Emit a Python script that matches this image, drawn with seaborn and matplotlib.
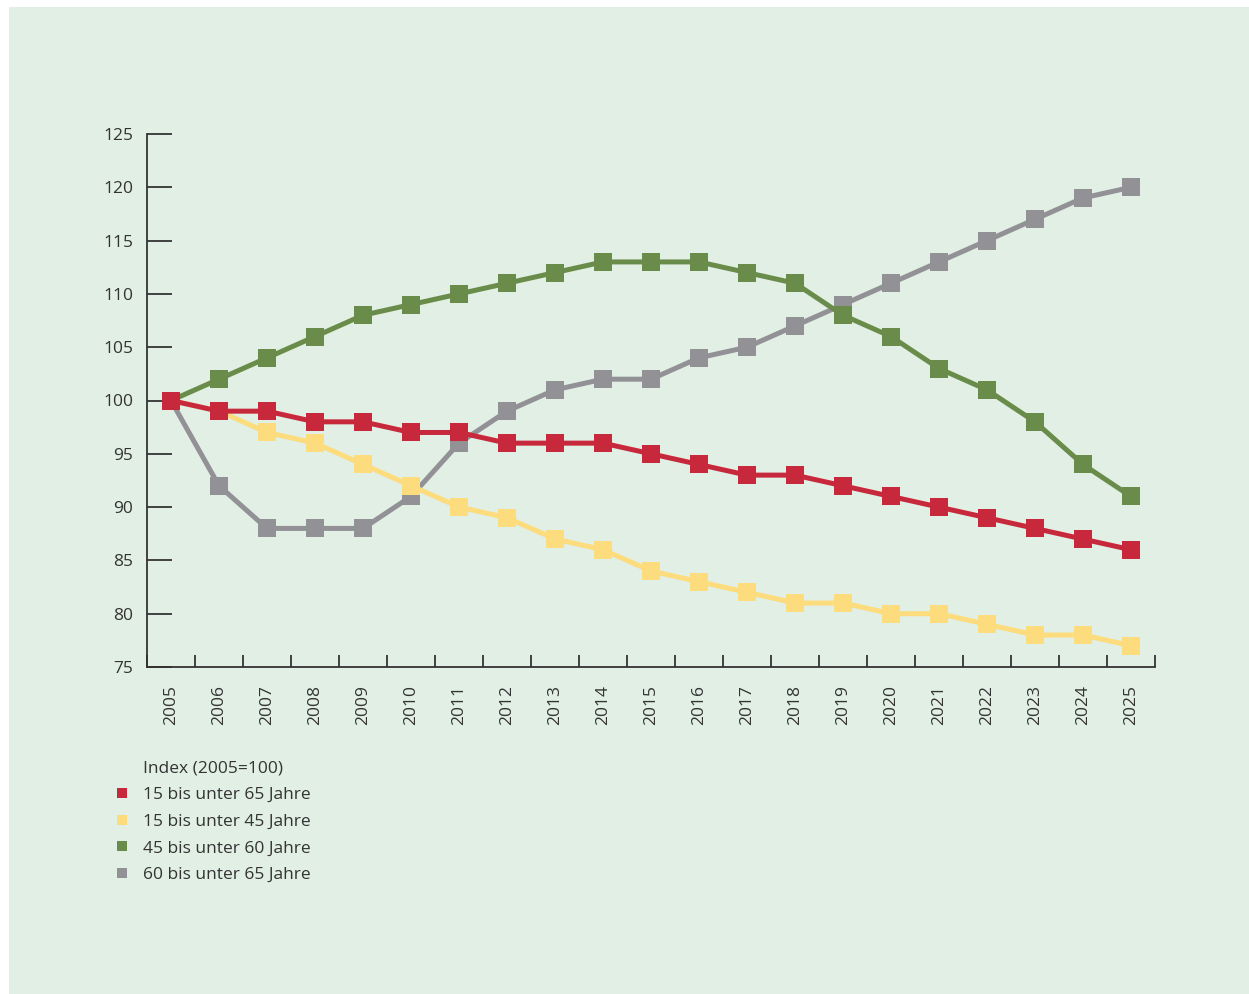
import matplotlib
matplotlib.use("Agg")
import matplotlib.pyplot as plt
from matplotlib.patches import Rectangle
from matplotlib.lines import Line2D
import seaborn as sns
import pandas as pd

years = list(range(2005, 2026))
series_names = [
    "15 bis unter 65 Jahre",
    "15 bis unter 45 Jahre",
    "45 bis unter 60 Jahre",
    "60 bis unter 65 Jahre",
]
age_15_65 = [100, 99, 99, 98, 98, 97, 97, 96, 96, 96, 95, 94, 93, 93, 92, 91, 90, 89, 88, 87, 86]
age_15_45 = [100, 99, 97, 96, 94, 92, 90, 89, 87, 86, 84, 83, 82, 81, 81, 80, 80, 79, 78, 78, 77]
age_45_60 = [100, 102, 104, 106, 108, 109, 110, 111, 112, 113, 113, 113, 112, 111, 108, 106, 103, 101, 98, 94, 91]
age_60_65 = [100, 92, 88, 88, 88, 91, 96, 99, 101, 102, 102, 104, 105, 107, 109, 111, 113, 115, 117, 119, 120]
legend_title = "Index (2005=100)"

colors = ["#c8283b", "#fcdc7d", "#6a8c4a", "#929296"]
# stacking order: gray at the back, red in front
z_order = [5, 4, 3, 2]

bg = "#e2efe5"
ink = "#333333"
fs = 12.5

sns.set_style("white")
plt.rcParams["font.family"] = ["Open Sans", "DejaVu Sans"]

rows = []
for name, vals in zip(series_names, [age_15_65, age_15_45, age_45_60, age_60_65]):
    for i, (yr, v) in enumerate(zip(years, vals)):
        rows.append({"pos": i, "year": yr, "value": v, "group": name})
df = pd.DataFrame(rows)

W, H = 1249, 994
fig = plt.figure(figsize=(W / 100, H / 100), dpi=100, facecolor="white")
fig.patches.append(Rectangle((9 / W, 0), 1 - 9 / W, (H - 7) / H,
                             transform=fig.transFigure, facecolor=bg,
                             edgecolor="none", zorder=-10))

ax = fig.add_axes([147 / W, 1 - 667 / H, (1155 - 147) / W, (667 - 134) / H])
ax.set_facecolor("none")

sns.lineplot(data=df, x="pos", y="value", hue="group", hue_order=series_names,
             palette=colors, style="group", markers=["s"] * 4, dashes=False,
             markersize=13.5, linewidth=3.6, markeredgewidth=0,
             sort=False, legend=False, ax=ax)
for line, z in zip(ax.lines, z_order):
    line.set_zorder(z)
    line.set_clip_on(False)

ax.set_xlim(-0.5, len(years) - 0.5)
ax.set_ylim(75, 125)
ax.set_xlabel("")
ax.set_ylabel("")

for s in ["top", "right"]:
    ax.spines[s].set_visible(False)
for s in ["left", "bottom"]:
    ax.spines[s].set_color(ink)
    ax.spines[s].set_linewidth(1.3)

ax.set_yticks(range(75, 126, 5))
ax.tick_params(axis="y", direction="in", length=18, width=1.3, color=ink,
               pad=10, labelsize=fs, labelcolor=ink, left=True)

ax.set_xticks(range(len(years)))
ax.set_xticklabels([str(y) for y in years], rotation=90, va="top")
ax.set_xticks([i + 0.5 for i in range(-1, len(years))], minor=True)
ax.tick_params(axis="x", which="major", length=0, pad=13, labelsize=fs,
               labelcolor=ink)
ax.tick_params(axis="x", which="minor", direction="in", length=9, width=1.3,
               color=ink, bottom=True)

# legend: heading sits in the label column, above the four coloured squares
blank = Line2D([], [], linestyle="none", marker="none")
handles = [blank] + [Line2D([], [], linestyle="none", marker="s", markersize=7,
                            markerfacecolor=c, markeredgewidth=0) for c in colors]
labels = [legend_title] + series_names
leg = fig.legend(handles, labels, loc="upper left",
                 bbox_to_anchor=(114 / W, 1 - 760 / H), frameon=False,
                 fontsize=fs, labelcolor=ink,
                 handlelength=0.9, handletextpad=0.75, labelspacing=0.61,
                 borderpad=0, borderaxespad=0)

fig.savefig("out.png", dpi=100, facecolor="white")
